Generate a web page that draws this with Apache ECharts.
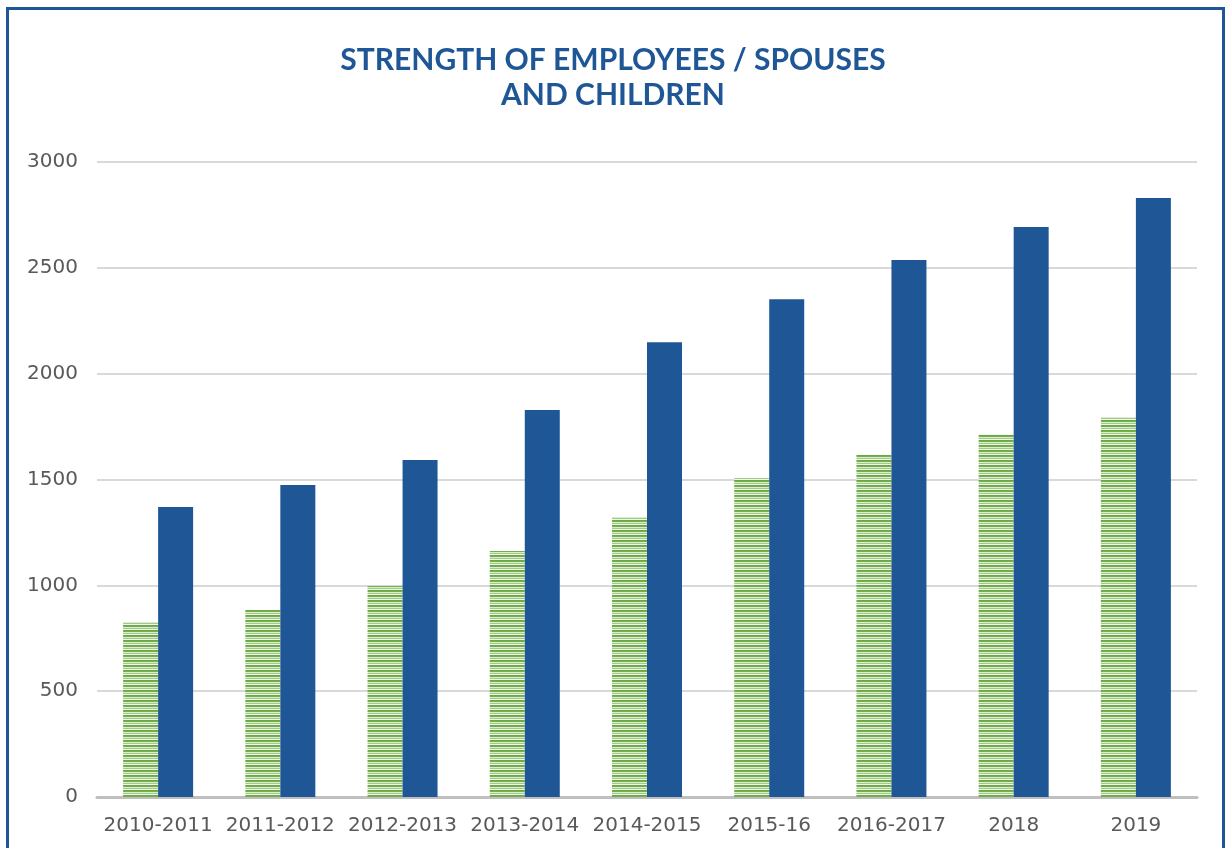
<!DOCTYPE html>
<html>
<head>
<meta charset="utf-8">
<script src="https://cdn.jsdelivr.net/npm/echarts@6/dist/echarts.min.js"></script>
<style>
  html, body { margin: 0; padding: 0; background: #fff; }
  #frame {
    position: absolute; left: 6px; top: 7px; width: 1213px; height: 900px;
    border-left: 3px solid #1f5796; border-top: 3px solid #1f5796; border-right: 3px solid #1f5796;
  }
  #chart { position: absolute; left: 0; top: 0; width: 1226px; height: 848px; }
</style>
</head>
<body>
<div id="frame"></div>
<div id="chart"></div>
<script>
// 年度
const years = ['2010-2011', '2011-2012', '2012-2013', '2013-2014', '2014-2015', '2015-16', '2016-2017', '2018', '2019']
// 绿色条（条纹）
const greenValues = [827, 883, 997, 1162, 1323, 1507, 1616, 1715, 1795]
// 蓝色条
const blueValues = [1370, 1474, 1592, 1828, 2149, 2352, 2537, 2693, 2830]
const yTicks = [0, 500, 1000, 1500, 2000, 2500, 3000]

// 条纹填充
function makeStripes() {
  const c = document.createElement('canvas')
  c.width = 8
  c.height = 5
  const ctx = c.getContext('2d')
  const rows = ['#6aa843', '#75b04e', '#dcebd2', '#9fcb82', '#f2f8ee']
  rows.forEach((col, i) => {
    ctx.fillStyle = col
    ctx.fillRect(0, i, 8, 1)
  })
  return c
}

const chart = echarts.init(document.getElementById('chart'))
chart.setOption({
  animation: false,
  title: {
    text: 'STRENGTH OF EMPLOYEES / SPOUSES\nAND CHILDREN',
    left: 'center',
    top: 38,
    textStyle: {
      fontFamily: 'Lato',
      fontWeight: 'bold',
      fontSize: 30,
      lineHeight: 35,
      color: '#1f5796'
    }
  },
  grid: { left: 97, right: 29, top: 162, bottom: 51 },
  xAxis: {
    type: 'category',
    data: years,
    axisTick: { show: false },
    axisLine: { lineStyle: { color: '#bfbfbf', width: 3 } },
    axisLabel: {
      interval: 0,
      margin: 19,
      color: '#595959',
      fontFamily: 'DejaVu Sans',
      fontSize: 20
    }
  },
  yAxis: {
    type: 'value',
    min: yTicks[0],
    max: yTicks[yTicks.length - 1],
    interval: 500,
    axisLine: { show: false },
    axisTick: { show: false },
    splitLine: { lineStyle: { color: '#d9d9d9', width: 2 } },
    axisLabel: {
      margin: 19,
      color: '#595959',
      fontFamily: 'DejaVu Sans',
      fontSize: 20,
      formatter: (v) => String(v)
    }
  },
  series: [
    {
      name: 'green',
      type: 'bar',
      data: greenValues,
      barWidth: 35,
      barGap: '0%',
      itemStyle: { color: { image: makeStripes(), repeat: 'repeat' } }
    },
    {
      name: 'blue',
      type: 'bar',
      data: blueValues,
      barWidth: 35,
      barGap: '0%',
      itemStyle: { color: '#1f5796' }
    }
  ]
})
</script>
</body>
</html>
